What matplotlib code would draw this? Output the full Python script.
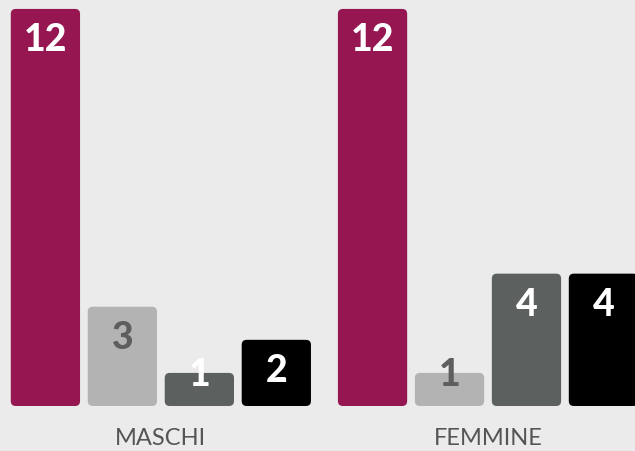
import matplotlib
matplotlib.use('Agg')
import matplotlib.pyplot as plt
from matplotlib.patches import FancyBboxPatch

# Data
groups = ['MASCHI', 'FEMMINE']
maschi = [12, 3, 1, 2]
femmine = [12, 1, 4, 4]
values = [maschi, femmine]

bar_colors = ['#951651', '#b3b3b3', '#5c605e', '#000000']
label_colors = ['#ffffff', '#5e5e5e', '#ffffff', '#ffffff']
bg = '#ebebeb'

W, H = 635, 452
fig = plt.figure(figsize=(W / 100, H / 100), dpi=100, facecolor=bg)
ax = fig.add_axes([0, 0, 1, 1])
ax.set_facecolor(bg)

group_pos = [0, 4.25]
offsets = [-1.5, -0.5, 0.5, 1.5]
bar_w = 0.9

ax.set_xlim(-2.09, 6.16)
ax.set_ylim(-1.36, 12.30)
ax.axis('off')

# units per pixel, to keep the rounded corners round
xpp = (6.16 + 2.09) / W
ypp = (12.30 + 1.36) / H
radius = 5 * xpp
aspect = ypp / xpp

for g, gx in enumerate(group_pos):
    for i, v in enumerate(values[g]):
        x = gx + offsets[i]
        box = FancyBboxPatch((x - bar_w / 2, 0), bar_w, v,
                             boxstyle='round,pad=0,rounding_size=%f' % radius,
                             mutation_aspect=aspect,
                             facecolor=bar_colors[i], edgecolor='none')
        ax.add_patch(box)
        # label near top of bar, but not below the bottom area
        ly = max(v - 30 * ypp, 32 * ypp)
        ax.text(x, ly, str(v), ha='center', va='center',
                color=label_colors[i], fontsize=27, fontweight='black',
                family=['Lato', 'DejaVu Sans'])
    ax.text(gx, -32 * ypp, groups[g], ha='center', va='center',
            color='#555555', fontsize=17, fontweight='normal',
            family=['Lato', 'DejaVu Sans'])

fig.savefig('out.png', dpi=100, facecolor=bg)
